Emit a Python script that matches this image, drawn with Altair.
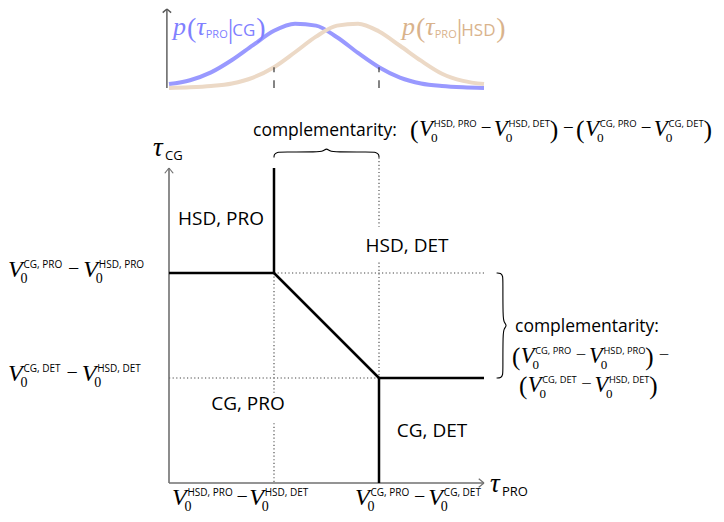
import altair as alt
import pandas as pd

# ------------------------------------------------------------------
# Diagram values (units of the tau_PRO / tau_CG plane)
# ------------------------------------------------------------------
bound_x  = [0.0, 1.0, 1.0, 2.0, 2.0]
bound_y  = [2.0, 2.0, 2.0, 1.0, 1.0]
bound_x2 = [1.0, 1.0, 2.0, 3.0, 2.0]
bound_y2 = [2.0, 3.0, 1.0, 1.0, 0.0]

dot_x  = [1.0, 0.0, 1.0, 1.0, 2.0, 2.0]
dot_y  = [2.0, 1.0, 2.0, 0.57, 3.10, 2.10]
dot_x2 = [3.0, 2.0, 1.0, 1.0, 2.0, 2.0]
dot_y2 = [2.0, 1.0, 0.86, 0.0, 2.44, 1.0]

axis_x  = [0.0, 0.0]
axis_y  = [0.0, 0.0]
axis_x2 = [3.0, 0.0]
axis_y2 = [0.0, 3.0]

arrow_x  = [-0.04, 0.04, 2.95, 2.95]
arrow_y  = [2.95, 2.95, 0.04, -0.04]
arrow_x2 = [0.0, 0.0, 3.0, 3.0]
arrow_y2 = [3.0, 3.0, 0.0, 0.0]

brace_top_x = [1.00, 1.00, 1.03, 1.08, 1.42, 1.47, 1.50, 1.53, 1.58, 1.92, 1.97, 2.00, 2.00]
brace_top_y = [3.10, 3.13, 3.152, 3.152, 3.152, 3.16, 3.19, 3.16, 3.152, 3.152, 3.152, 3.13, 3.10]
brace_right_x = [3.12, 3.16, 3.18, 3.18, 3.18, 3.19, 3.22, 3.19, 3.18, 3.18, 3.18, 3.16, 3.12]
brace_right_y = [2.00, 2.00, 1.97, 1.92, 1.58, 1.53, 1.50, 1.47, 1.42, 1.08, 1.03, 1.00, 1.00]

# densities p(tau_PRO | CG) and p(tau_PRO | HSD) (peak = 1)
dens_x   = [0.0, 0.2, 0.4, 0.6, 0.8, 1.0, 1.2, 1.4, 1.6, 1.8, 2.0, 2.2, 2.4, 2.6, 2.8, 3.0]
dens_cg  = [0.06, 0.12, 0.24, 0.43, 0.66, 0.88, 0.99, 0.96, 0.78, 0.54, 0.32, 0.16, 0.07, 0.03, 0.01, 0.0]
dens_hsd = [0.0, 0.01, 0.03, 0.07, 0.16, 0.32, 0.55, 0.79, 0.96, 0.99, 0.87, 0.65, 0.42, 0.22, 0.11, 0.06]
dens_ticks = [1.0, 2.0]
dens_tick_top = [0.32, 0.32]

region_labels = ["HSD, PRO", "HSD, DET", "CG, PRO", "CG, DET"]

# ------------------------------------------------------------------
# Layout
# ------------------------------------------------------------------
W, H = 708, 506
XS = alt.Scale(domain=[-161 / 105, 547 / 105], nice=False, zero=False)
YS = alt.Scale(domain=[-31 / 105, 475 / 105], nice=False, zero=False)
DS = alt.Scale(domain=[-426 / 65, 80 / 65], nice=False, zero=False)
PXS = alt.Scale(domain=[8, 716], nice=False, zero=False)
PYS = alt.Scale(domain=[8, 514], reverse=True, nice=False, zero=False)

SANS = "Open Sans"
SERIF = "Liberation Serif"
SW = {'A': .633, 'C': .631, 'D': .722, 'E': .556, 'G': .719, 'H': .734, 'O': .781,
      'P': .597, 'R': .618, 'S': .535, 'T': .553, 'a': .556, 'c': .479, 'e': .561,
      'i': .258, 'l': .258, 'm': .932, 'n': .615, 'o': .605, 'p': .615, 'r': .408,
      't': .357, 'y': .5, ',': .249, ' ': .26, ':': .267, '|': .55}
RW = {'(': .333, ')': .333, '0': .5, '−': .564, '|': .2, 'V': .611, 'p': .5, 'τ': .40}

rows = []


def put(fam, x, y, text, size, color="#000000"):
    rows.append(dict(px=x, py=y, text=text, size=size, color=color, fam=fam))


def width(fam, text, size):
    table = SW if fam.startswith("sans") else RW
    return sum(table.get(c, .55) for c in text) * size


def vterm(x, yb, sup, s=1.0):
    put("serifi", x, yb, "V", 24 * s)
    put("serif", x + 12.5 * s, yb + 6 * s, "0", 14 * s)
    put("sans", x + 15.5 * s, yb - 9.5 * s, sup, 10 * s)
    return x + 15.5 * s + width("sans", sup, 10 * s)


def minus(x, yb, s=1.0, g=(3, 1)):
    put("serif", x + g[0] * s, yb - 2 * s, "−", 20 * s)
    return x + g[0] * s + width("serif", "−", 20 * s) + g[1] * s


def paren(x, yb, ch, s=1.0):
    put("serif", x, yb + 2 * s, ch, 27 * s)
    return x + width("serif", ch, 27 * s) + 0.5 * s


def formula(x, yb, terms, s=1.0, lead="", tail=False, g=(3, 1)):
    if lead:
        x = paren(x, yb, "(", s)
    for i, t in enumerate(terms):
        if i:
            x = minus(x, yb, s, g)
        x = vterm(x, yb, t, s)
    if lead:
        x = paren(x, yb, ")", s)
    if tail:
        x = minus(x, yb, s, g)
    return x


def chain(x, yb, items, color):
    for fam, text, size, dy, gap in items:
        put(fam, x, yb + dy, text, size, color)
        x += width(fam, text, size) + gap
    return x


# left labels
formula(8, 277, ["CG, PRO", "HSD, PRO"], g=(6, 4))
formula(8, 381, ["CG, DET", "HSD, DET"], g=(6, 4))
# bottom labels
formula(172, 505, ["HSD, PRO", "HSD, DET"], g=(4, 1.5))
formula(355, 505, ["CG, PRO", "CG, DET"], g=(5, 3))
# top complementarity
put("sans", 253, 136, "complementarity:", 17.5)
ts, tg = 0.95, (4.5, 2.5)
xx = formula(410, 136, ["HSD, PRO", "HSD, DET"], s=ts, lead="(", g=tg)
xx = minus(xx, 136, ts, tg)
formula(xx, 136, ["CG, PRO", "CG, DET"], s=ts, lead="(", g=tg)
# right complementarity
put("sans", 515, 332, "complementarity:", 17.5)
formula(512, 363, ["CG, PRO", "HSD, PRO"], s=0.93, lead="(", tail=True, g=(5, 3))
formula(519, 392, ["CG, DET", "HSD, DET"], s=0.93, lead="(", g=(5, 3))
# axis titles
put("serifi", 153, 156, "τ", 27)
put("sans", 165, 160, "CG", 13)
put("serifi", 490, 492, "τ", 27)
put("sans", 502, 496, "PRO", 13)
# density labels
BLUE_T, TAN_T = "#8080ff", "#d9b38c"
lab_items = lambda cond: [("serifi", "p", 26, 0, 1), ("serif", "(", 28, 2, 0),
                          ("serifi", "τ", 26, 0, -1), ("sans", "PRO", 11, 3, 0),
                          ("serif", "|", 28, 3, -1), ("sans", cond, 17, 1, 1),
                          ("serif", ")", 28, 2, 0)]
chain(173, 35, lab_items("CG"), BLUE_T)
chain(402, 35, lab_items("HSD"), TAN_T)

centers = [(221, 225), (407, 252), (248, 410), (432, 437)]
center_rows = [dict(px=c[0], py=c[1], text=t, size=19, color="#000000")
               for t, c in zip(region_labels, centers)]

txt = pd.DataFrame(rows)

# ------------------------------------------------------------------
# Layers
# ------------------------------------------------------------------
def segs(x, y, x2, y2):
    return pd.DataFrame(dict(x=x, y=y, x2=x2, y2=y2))


def rule_layer(df, color, width_, dash=None, xs=XS, ys=YS):
    kw = dict(color=color, strokeWidth=width_)
    if dash:
        kw["strokeDash"] = dash
    return alt.Chart(df).mark_rule(**kw).encode(
        x=alt.X("x:Q", scale=xs, axis=None), y=alt.Y("y:Q", scale=ys, axis=None),
        x2="x2:Q", y2="y2:Q")


layers = []
# density panel
dens_df = pd.concat([
    pd.DataFrame(dict(x=dens_x, v=dens_cg, g="CG", i=range(len(dens_x)))),
    pd.DataFrame(dict(x=dens_x, v=dens_hsd, g="HSD", i=range(len(dens_x)))),
])
layers.append(alt.Chart(dens_df).mark_line(strokeWidth=4, interpolate="monotone").encode(
    x=alt.X("x:Q", scale=XS, axis=None), y=alt.Y("v:Q", scale=DS, axis=None),
    color=alt.Color("g:N", scale=alt.Scale(domain=["CG", "HSD"], range=["#9999ff", "#ecd9c6"]), legend=None),
    order="i:Q"))
tick_df = pd.DataFrame(dict(x=dens_ticks, y=dens_tick_top, x2=dens_ticks, y2=[0.0, 0.0]))
layers.append(alt.Chart(tick_df).mark_rule(color="#333", strokeWidth=1.2, strokeDash=[5, 8, 9, 1]).encode(
    x=alt.X("x:Q", scale=XS, axis=None), y=alt.Y("y:Q", scale=DS, axis=None), x2="x2:Q", y2="y2:Q"))
dax = pd.DataFrame(dict(x=[-0.02, -0.06, 0.02], y=[0.0, 1.16, 1.16], x2=[-0.02, -0.02, -0.02], y2=[1.215, 1.215, 1.215]))
layers.append(alt.Chart(dax).mark_rule(color="#555", strokeWidth=1.4).encode(
    x=alt.X("x:Q", scale=XS, axis=None), y=alt.Y("y:Q", scale=DS, axis=None), x2="x2:Q", y2="y2:Q"))

# main panel
layers.append(rule_layer(segs(dot_x, dot_y, dot_x2, dot_y2), "#444", 1.1, [1.2, 2.4]))
layers.append(rule_layer(segs(axis_x, axis_y, axis_x2, axis_y2), "#707070", 1.6))
layers.append(rule_layer(segs(arrow_x, arrow_y, arrow_x2, arrow_y2), "#707070", 1.2))
layers.append(rule_layer(segs(bound_x, bound_y, bound_x2, bound_y2), "#000", 2.5))
brace_df = pd.concat([
    pd.DataFrame(dict(x=brace_top_x, y=brace_top_y, g="top", i=range(len(brace_top_x)))),
    pd.DataFrame(dict(x=brace_right_x, y=brace_right_y, g="right", i=range(len(brace_right_x)))),
])
layers.append(alt.Chart(brace_df).mark_line(color="#000", strokeWidth=1.1, interpolate="basis").encode(
    x=alt.X("x:Q", scale=XS, axis=None), y=alt.Y("y:Q", scale=YS, axis=None),
    detail="g:N", order="i:Q"))


def text_layer(df, font, style, align="left"):
    return alt.Chart(df).mark_text(font=font, fontStyle=style, align=align, baseline="alphabetic").encode(
        x=alt.X("px:Q", scale=PXS, axis=None), y=alt.Y("py:Q", scale=PYS, axis=None),
        text="text:N",
        size=alt.Size("size:Q", scale=None, legend=None),
        color=alt.Color("color:N", scale=None, legend=None))


layers.append(text_layer(txt[txt.fam == "serifi"], SERIF, "italic"))
layers.append(text_layer(txt[txt.fam == "serif"], SERIF, "normal"))
layers.append(text_layer(txt[txt.fam == "sans"], SANS, "normal"))
layers.append(text_layer(pd.DataFrame(center_rows), SANS, "normal", align="center"))

chart = alt.layer(*layers).resolve_scale(x="independent", y="independent", color="independent", size="independent").properties(
    width=W, height=H, padding=0, autosize=alt.AutoSizeParams(type="none")
).configure_view(stroke=None)

chart.save("out.html", embed_options={"renderer": "svg", "actions": False})
